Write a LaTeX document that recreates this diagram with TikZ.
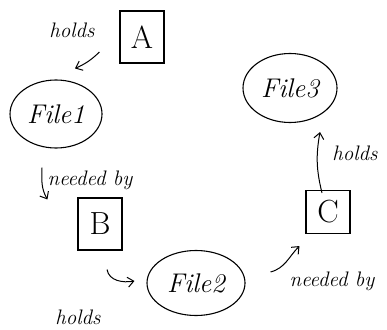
\documentclass[tikz,border=0pt]{standalone}
\usepackage{tikz}
\usetikzlibrary{arrows.meta,positioning,shapes.geometric}

\begin{document}
\begin{tikzpicture}[x=1pt,y=1pt,
  box/.style={rectangle,draw,line width=1.1pt,minimum width=44pt,
              minimum height=52pt,font=\fontsize{32}{34}\selectfont},
  ell/.style={ellipse,draw,line width=1.1pt,inner sep=0pt,
              font=\fontsize{27}{29}\selectfont\itshape},
  arr/.style={-{Straight Barb[length=6pt,width=10pt]},line width=1pt},
  lbl/.style={font=\fontsize{21}{23}\selectfont\itshape}
]
  \useasboundingbox (0,0) rectangle (387,329);

  % ---- Owners (boxes) ----------------------------------------
  \node[box] (a) at (142,292) {A};
  \node[box] (b) at (100,105) {B};
  \node[box,minimum height=43pt] (c) at (328,117) {C};

  % ---- Files (ellipses) --------------------------------------
  \node[ell,minimum width=92pt,minimum height=68pt] (file1) at (56,215) {File1};
  \node[ell,minimum width=98pt,minimum height=65pt] (file2) at (196,46) {File2};
  \node[ell,minimum width=94pt,minimum height=69pt] (file3) at (290,241) {File3};

  % ---- Arrows ------------------------------------------------
  % A holds File 1
  \draw[arr] ([shift={(-20,-15)}]a.west) to[bend left=10]
    ([shift={(19,11)}]file1.north);
  % File 1 needed by B
  \draw[arr] ([shift={(-14,-19)}]file1.south) to[out=-92,in=120]
    ([shift={(-30,-2)}]b.north west);
  % B holds File 2
  \draw[arr] ([shift={(7,-19)}]b.south) to[out=-80,in=190]
    ([shift={(-12,2)}]file2.west);
  % File 2 needed by C
  \draw[arr] ([shift={(25,11)}]file2.east) to[out=15,in=-135]
    ([shift={(-6,-12)}]c.south west);
  % C holds File 3
  \draw[arr] ([shift={(-6,-3)}]c.north) to[bend left=12]
    ([shift={(30,-9)}]file3.south);

  % ---- Labels ------------------------------------------------
  \node[lbl] (l1) at (72,299) {holds};
  \node[lbl] (l2) at (90,149) {needed by};
  \node[lbl] (l3) at (78,12) {holds};
  \node[lbl] (l4) at (332,48) {needed by};
  \node[lbl] (l5) at (355,176) {holds};

\end{tikzpicture}
\end{document}
